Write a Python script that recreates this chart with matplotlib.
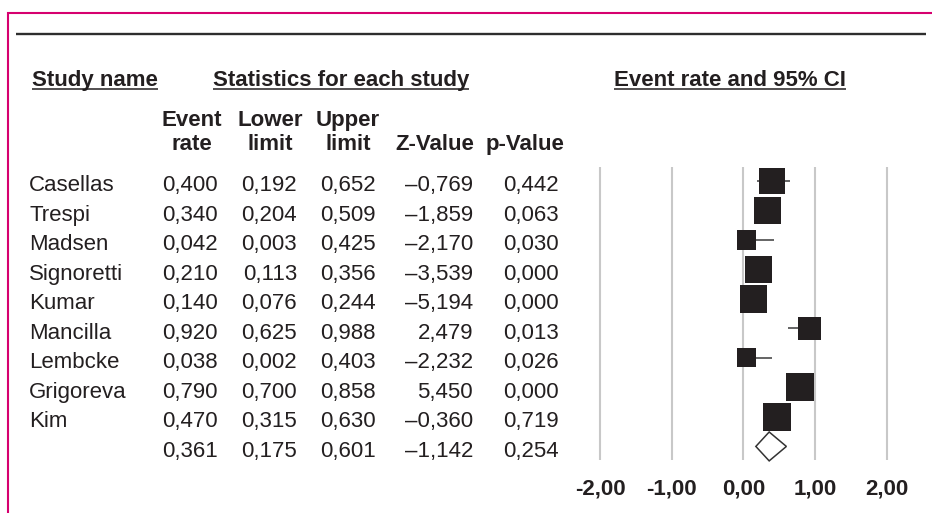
import math
import matplotlib
matplotlib.use('Agg')
import matplotlib.pyplot as plt
from matplotlib.patches import Polygon
import matplotlib.transforms as mtransforms

plt.rcParams['font.family'] = ['Liberation Sans', 'DejaVu Sans']

# ---------------- data ----------------
studies = ["Casellas", "Trespi", "Madsen", "Signoretti", "Kumar",
           "Mancilla", "Lembcke", "Grigoreva", "Kim"]
event_rate = [0.400, 0.340, 0.042, 0.210, 0.140, 0.920, 0.038, 0.790, 0.470]
lower_limit = [0.192, 0.204, 0.003, 0.113, 0.076, 0.625, 0.002, 0.700, 0.315]
upper_limit = [0.652, 0.509, 0.425, 0.356, 0.244, 0.988, 0.403, 0.858, 0.630]
z_value = [-0.769, -1.859, -2.170, -3.539, -5.194, 2.479, -2.232, 5.450, -0.360]
p_value = [0.442, 0.063, 0.030, 0.000, 0.000, 0.013, 0.026, 0.000, 0.719]
weights = [12.4, 13.0, 6.5, 12.7, 13.0, 9.2, 6.3, 13.6, 13.3]   # relative weight (%)

summary_rate = 0.361
summary_lower = 0.175
summary_upper = 0.601
summary_z = -1.142
summary_p = 0.254

axis_ticks = [-2, -1, 0, 1, 2]

# ---------------- styling ----------------
DARK = '#231f20'
FS = 16
W, H = 932, 513


def fmt(v, d=3):
    return f"{v:.{d}f}".replace('.', ',').replace('-', '\u2013')


fig = plt.figure(figsize=(W / 100, H / 100), dpi=100)
fig.patch.set_facecolor('white')

# full-figure canvas in pixel coordinates (y downward)
cv = fig.add_axes([0, 0, 1, 1])
cv.set_xlim(0, W)
cv.set_ylim(H, 0)
cv.axis('off')

# frame lines
cv.plot([6.7, W], [13, 13], color='#d6006f', lw=1.5, solid_capstyle='butt')
cv.plot([7.7, 7.7], [12.3, H], color='#d6006f', lw=1.5, solid_capstyle='butt')
cv.plot([16, 926], [33.7, 33.7], color='#2e2e2e', lw=1.7, solid_capstyle='butt')

# ---------------- forest axes ----------------
px_unit = 71.67
zero_px = 743.3
ax_left = zero_px - 2.2 * px_unit
ax_w = 4.4 * px_unit
ax_top, ax_bot = 166.7, 460.0
ax = fig.add_axes([ax_left / W, (H - ax_bot) / H, ax_w / W, (ax_bot - ax_top) / H])
ax.set_facecolor('none')
ax.set_xlim(-2.2, 2.2)
ax.set_ylim(9.46, -0.485)
for s in ax.spines.values():
    s.set_visible(False)
ax.set_yticks([])
ax.set_xticks(axis_ticks)
ax.set_xticklabels([f"{t:.2f}".replace('.', ',') for t in axis_ticks],
                   fontsize=FS, fontweight='bold', color=DARK)
ax.tick_params(axis='x', length=0, pad=13)
ax.grid(axis='x', color='#c8c8c8', lw=1.5, zorder=0)
ax.set_axisbelow(True)

rows = list(range(len(studies)))
ax.hlines(rows, lower_limit, upper_limit, color='#3a3a3a', lw=1.1, zorder=2)
sizes = [(7.58 * math.sqrt(w) * 0.72) ** 2 for w in weights]
ax.scatter(event_rate, rows, s=sizes, marker='s', color=DARK, linewidths=0, zorder=3)

sr = len(studies)
dh = 0.49
diamond = Polygon([(summary_lower, sr), (summary_rate, sr - dh),
                   (summary_upper, sr), (summary_rate, sr + dh)],
                  closed=True, facecolor='white', edgecolor='#333333', lw=1.1,
                  zorder=3, clip_on=False)
ax.add_patch(diamond)

# ---------------- table text ----------------
row_tr = mtransforms.blended_transform_factory(cv.transData, ax.transData) + \
    mtransforms.ScaledTranslation(0, -10.3 / 100, fig.dpi_scale_trans)

col_right = [218, 297, 376, 473, 559]
for i, name in enumerate(studies):
    cv.text(29, i, name, transform=row_tr, fontsize=FS, color=DARK, va='baseline', ha='left')
    vals = [fmt(event_rate[i]), fmt(lower_limit[i]), fmt(upper_limit[i]),
            fmt(z_value[i]), fmt(p_value[i])]
    for xr, v in zip(col_right, vals):
        cv.text(xr, i, v, transform=row_tr, fontsize=FS, color=DARK, va='baseline', ha='right')

svals = [fmt(summary_rate), fmt(summary_lower), fmt(summary_upper),
         fmt(summary_z), fmt(summary_p)]
for xr, v in zip(col_right, svals):
    cv.text(xr, sr, v, transform=row_tr, fontsize=FS, color=DARK, va='baseline', ha='right')

# ---------------- headers ----------------
heads = []
for x, txt in [(32, "Study name"), (213, "Statistics for each study"), (614, "Event rate and 95% CI")]:
    heads.append(cv.text(x, 86, txt, fontsize=FS, fontweight='bold', color=DARK,
                         ha='left', va='baseline'))

for x, t1, t2 in [(192, "Event", "rate"), (270, "Lower", "limit"), (348, "Upper", "limit")]:
    cv.text(x, 126, t1, fontsize=FS, fontweight='bold', color=DARK, ha='center', va='baseline')
    cv.text(x, 150, t2, fontsize=FS, fontweight='bold', color=DARK, ha='center', va='baseline')
for x, t2 in [(435, "Z-Value"), (525, "p-Value")]:
    cv.text(x, 150, t2, fontsize=FS, fontweight='bold', color=DARK, ha='center', va='baseline')

fig.canvas.draw()
renderer = fig.canvas.get_renderer()
for t in heads:
    bb = t.get_window_extent(renderer)
    cv.plot([bb.x0, bb.x1], [89.3, 89.3], color=DARK, lw=1.1, solid_capstyle='butt')

fig.savefig('out.png', dpi=100, facecolor='white')
